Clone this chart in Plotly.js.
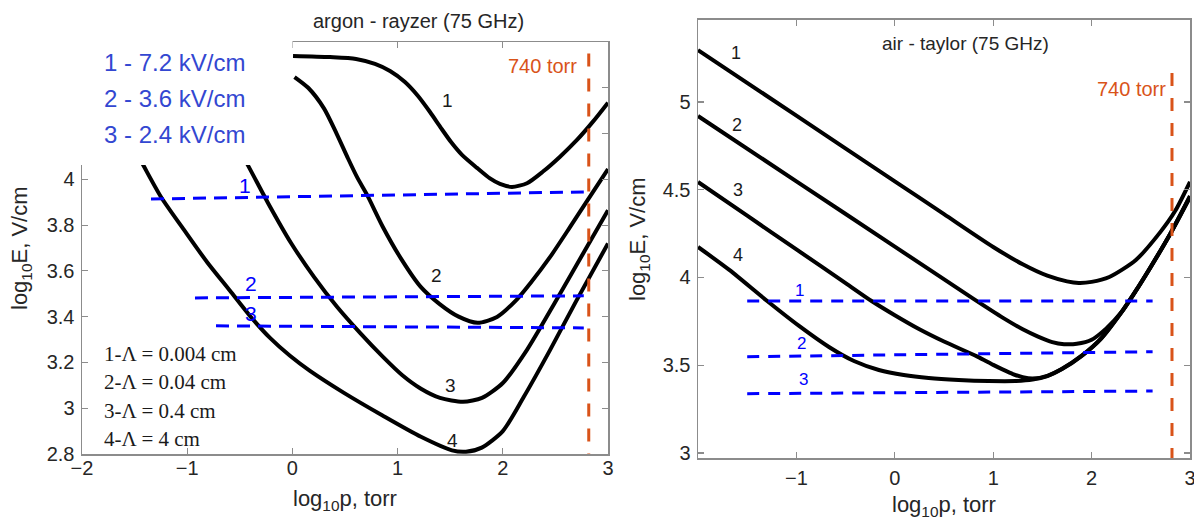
<!DOCTYPE html>
<html>
<head>
<meta charset="utf-8">
<script src="https://cdn.plot.ly/plotly-3.0.1.min.js"></script>
<style>html,body{margin:0;padding:0;background:#fff;}#chart{width:1194px;height:520px;}</style>
</head>
<body>
<div id="chart"></div>
<script>
// ---------- Argon (Raizer), left panel: log10 p [torr] vs log10 E [V/cm] ----------
const argonP1 = [0.006, 0.357, 0.605, 0.785, 0.928, 1.070, 1.194, 1.308, 1.413, 1.508, 1.612, 1.755, 1.878, 1.973, 2.087, 2.230, 2.382, 2.544, 2.705, 2.857, 3.0];
const argonE1 = [4.539, 4.534, 4.526, 4.504, 4.473, 4.425, 4.364, 4.294, 4.224, 4.163, 4.107, 4.050, 4.004, 3.980, 3.967, 3.983, 4.034, 4.099, 4.172, 4.252, 4.335];
const argonP2 = [0.02, 0.15, 0.3, 0.42, 0.53, 0.62, 0.71, 0.86, 1.04, 1.22, 1.4, 1.58, 1.76, 1.945, 2.135, 2.26, 2.45, 2.64, 2.8, 3.0];
const argonE2 = [4.447, 4.40, 4.31, 4.20, 4.09, 4.005, 3.932, 3.792, 3.648, 3.53, 3.455, 3.40, 3.373, 3.399, 3.476, 3.545, 3.661, 3.792, 3.905, 4.045];
const argonP3 = [-0.55, -0.451, -0.232, -0.013, 0.205, 0.424, 0.643, 0.861, 1.042, 1.222, 1.403, 1.622, 1.802, 2.0, 2.23, 2.5, 2.75, 3.0];
const argonE3 = [4.16, 4.085, 3.897, 3.722, 3.574, 3.443, 3.329, 3.224, 3.145, 3.085, 3.045, 3.028, 3.045, 3.11, 3.255, 3.465, 3.665, 3.865];
const argonP4 = [-1.55, -1.430, -1.249, -1.030, -0.812, -0.593, -0.403, -0.213, -0.023, 0.167, 0.490, 0.861, 1.222, 1.517, 1.65, 1.8, 2.0, 2.2, 2.45, 2.7, 3.0];
const argonE4 = [4.17, 4.072, 3.923, 3.779, 3.639, 3.513, 3.403, 3.307, 3.229, 3.163, 3.067, 2.967, 2.875, 2.816, 2.81, 2.828, 2.9, 3.05, 3.255, 3.47, 3.72];
// blue dashed breakdown-field levels (argon)
const argonLevelP = [[-1.344, 2.77], [-0.926, 2.77], [-0.726, 2.77]];
const argonLevelE = [[3.914, 3.945], [3.482, 3.491], [3.360, 3.351]];

// ---------- Air (Taylor), right panel ----------
const airP1 = [-2, -1, 0, 0.5, 1.0, 1.3, 1.55, 1.75, 1.87, 2.0, 2.18, 2.45, 2.7, 2.85, 3.0];
const airE1 = [5.296, 4.922, 4.548, 4.361, 4.174, 4.075, 4.01, 3.978, 3.969, 3.975, 4.003, 4.10, 4.26, 4.38, 4.545];
const airP2 = [-2, -1, 0, 0.8, 1.1, 1.3, 1.45, 1.6, 1.72, 1.85, 2.0, 2.15, 2.3, 2.45, 2.6, 2.8, 3.0];
const airE2 = [4.92, 4.548, 4.176, 3.878, 3.77, 3.705, 3.665, 3.632, 3.62, 3.622, 3.645, 3.71, 3.80, 3.925, 4.06, 4.25, 4.465];
const airP3 = [-2, -1.5, -1, -0.5, -0.236, 0, 0.25, 0.5, 0.84, 1.0, 1.1, 1.2, 1.3, 1.4, 1.55, 1.7, 1.9, 2.1, 2.3, 2.45, 2.6, 2.8, 3.0];
const airE3 = [4.544, 4.352, 4.16, 3.968, 3.866, 3.785, 3.705, 3.635, 3.549, 3.502, 3.475, 3.45, 3.432, 3.424, 3.44, 3.48, 3.555, 3.655, 3.80, 3.925, 4.06, 4.25, 4.46];
const airP4 = [-2, -1.682, -1.297, -0.973, -0.669, -0.415, -0.162, 0.091, 0.344, 0.648, 0.952, 1.226, 1.4, 1.55, 1.7, 1.9, 2.1, 2.3, 2.45, 2.6, 2.8, 3.0];
const airE4 = [4.174, 4.043, 3.866, 3.724, 3.604, 3.524, 3.473, 3.444, 3.427, 3.416, 3.41, 3.41, 3.418, 3.438, 3.478, 3.553, 3.653, 3.798, 3.923, 4.058, 4.248, 4.458];
const airLevelP = [[-1.5, 2.62], [-1.5, 2.62], [-1.5, 2.62]];
const airLevelE = [[3.866, 3.866], [3.549, 3.577], [3.338, 3.353]];

// 740 torr marker
const p740 = 2.817;
const argonMarkerE = [4.55, 2.8];
const airMarkerE = [5.165, 2.972];

// text
const argonTitle = "argon - rayzer (75 GHz)";
const airTitle = "air - taylor (75 GHz)";
const fieldLabels = ["1 - 7.2 kV/cm", "2 - 3.6 kV/cm", "3 - 2.4 kV/cm"];
const lambdaLabels = ["1-Λ = 0.004 cm", "2-Λ = 0.04 cm", "3-Λ = 0.4 cm", "4-Λ = 4 cm"];
const curveNames = ["1", "2", "3", "4"];
const markerLabel = "740 torr";
const xTitle = "log<sub>10</sub>p, torr";
const yTitle = "log<sub>10</sub>E, V/cm";
const argonXTicks = [-2, -1, 0, 1, 2, 3];
const argonYTicks = [2.8, 3, 3.2, 3.4, 3.6, 3.8, 4, 4.2, 4.4, 4.6];
const airXTicks = [-1, 0, 1, 2, 3];
const airYTicks = [3, 3.5, 4, 4.5, 5];

// ---------- build ----------
const W = 1194, H = 520;
const fx = v => v / W, fy = v => 1 - v / H;
const SANS = "Liberation Sans, Arial, Helvetica, sans-serif";
const SERIF = "Liberation Serif, Times New Roman, serif";
const BLUE = "#0000ff", ORANGE = "#D95319";

const traces = [];
function curve(x, y, xa, ya) {
  traces.push({x: x, y: y, xaxis: xa, yaxis: ya, mode: "lines", type: "scatter",
    line: {color: "#000", width: 4, shape: "spline", smoothing: 0.7}, hoverinfo: "skip"});
}
function dashed(x, y, xa, ya, color, dash, w) {
  traces.push({x: x, y: y, xaxis: xa, yaxis: ya, mode: "lines", type: "scatter",
    line: {color: color, width: w, dash: dash}, hoverinfo: "skip"});
}
curve(argonP1, argonE1, "x", "y");
curve(argonP2, argonE2, "x", "y");
curve(argonP3, argonE3, "x", "y");
curve(argonP4, argonE4, "x", "y");
for (let i = 0; i < 3; i++) dashed(argonLevelP[i], argonLevelE[i], "x", "y", BLUE, "13px,8px", 3);
dashed([p740, p740], argonMarkerE, "x", "y", ORANGE, "13px,12px", 3);

curve(airP1, airE1, "x2", "y2");
curve(airP2, airE2, "x2", "y2");
curve(airP3, airE3, "x2", "y2");
curve(airP4, airE4, "x2", "y2");
for (let i = 0; i < 3; i++) dashed(airLevelP[i], airLevelE[i], "x2", "y2", BLUE, "12px,9px", 3);
dashed([p740, p740], airMarkerE, "x2", "y2", ORANGE, "13px,12px", 3);

const axisCommon = {showline: true, mirror: "ticks", linecolor: "#8c8c8c", linewidth: 1.5,
  ticks: "inside", ticklen: 6, tickwidth: 1.2, tickcolor: "#8c8c8c", showgrid: false, zeroline: false,
  tickfont: {family: SANS, size: 20, color: "#262626"}, tickmode: "array", fixedrange: true,
  ticklabeloverflow: "allow"};

const ann = [];
function txt(text, x, y, size, color, opts) {
  ann.push(Object.assign({text: text, x: fx(x), y: fy(y), xref: "paper", yref: "paper", showarrow: false,
    xanchor: "center", yanchor: "middle", font: {family: SANS, size: size, color: color}}, opts || {}));
}
// titles
txt(argonTitle, 418, 21, 20, "#262626");
txt(airTitle, 966, 43, 19, "#262626");
// axis titles
txt(xTitle, 345, 500, 22, "#262626");
txt(yTitle, 21, 248, 22, "#262626", {textangle: -90});
txt(xTitle, 944, 506, 22, "#262626");
txt(yTitle, 639, 239, 22, "#262626", {textangle: -90});
// blue field legend (left)
[62, 98, 135].forEach((y, i) => txt(fieldLabels[i], 102, y, 24, "#3347d1", {xanchor: "left"}));
// lambda legend
[354, 382, 411, 439].forEach((y, i) => txt(lambdaLabels[i], 102, y, 21, "#1a1a1a", {xanchor: "left", font: {family: SERIF, size: 21, color: "#1a1a1a"}}));
// curve numbers left
[[447, 101], [436, 275], [450, 385], [452, 440]].forEach((p, i) => txt(curveNames[i], p[0], p[1], 19, "#1a1a1a"));
// blue level numbers left
[[245, 185], [251, 283], [251, 313]].forEach((p, i) => txt(curveNames[i], p[0], p[1], 21, BLUE));
// curve numbers right
[[736, 53], [737, 125], [738, 190], [738, 255]].forEach((p, i) => txt(curveNames[i], p[0], p[1], 18, "#1a1a1a"));
// blue level numbers right
[[799, 290], [801, 343], [803, 379]].forEach((p, i) => txt(curveNames[i], p[0], p[1], 17, BLUE));
// 740 torr
txt(markerLabel, 579, 66, 20, ORANGE, {xanchor: "right"});
txt(markerLabel, 1168, 89, 20, ORANGE, {xanchor: "right"});

const layout = {
  width: W, height: H, margin: {l: 0, r: 0, t: 0, b: 0},
  paper_bgcolor: "#fff", plot_bgcolor: "#fff", showlegend: false,
  xaxis: Object.assign({}, axisCommon, {domain: [fx(82), fx(608)], range: [-2, 3], tickvals: argonXTicks, anchor: "y", ticklabelstandoff: -5}),
  yaxis: Object.assign({}, axisCommon, {domain: [fy(454), fy(42)], range: [2.8, 4.6], tickvals: argonYTicks, anchor: "x", ticklabelstandoff: 2}),
  xaxis2: Object.assign({}, axisCommon, {domain: [fx(698), fx(1190)], range: [-2, 3], tickvals: airXTicks, anchor: "y2", ticklabelstandoff: 1}),
  yaxis2: Object.assign({}, axisCommon, {domain: [fy(458), fy(19.5)], range: [2.9715, 5.47], tickvals: airYTicks, anchor: "x2", ticklabelstandoff: 2}),
  shapes: [{type: "rect", xref: "paper", yref: "paper", x0: -0.01, x1: fx(292.5), y0: fy(165), y1: 1.01,
    fillcolor: "#fff", line: {width: 0}, layer: "above"}],
  annotations: ann
};
Plotly.newPlot("chart", traces, layout, {staticPlot: true, displayModeBar: false});
</script>
</body>
</html>
